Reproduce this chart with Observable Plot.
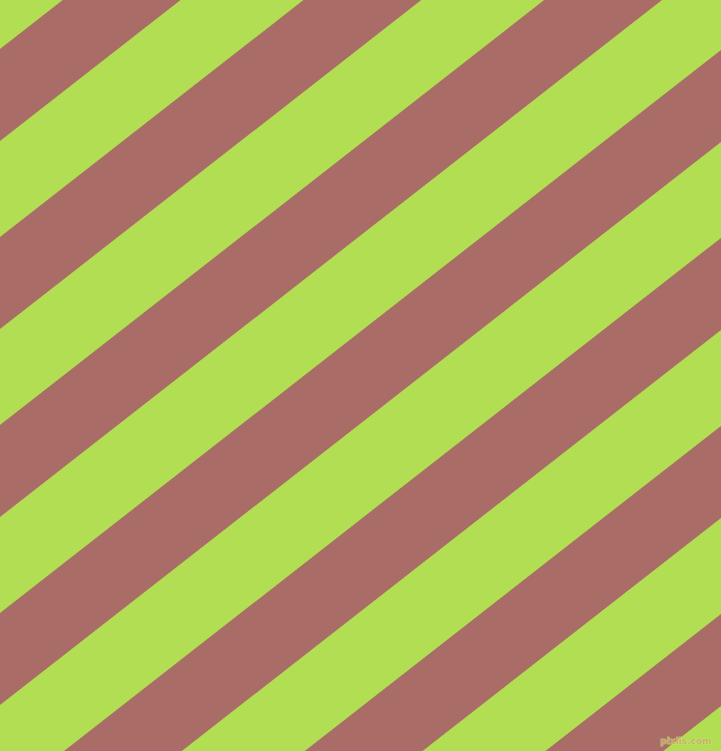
<!DOCTYPE html>
<html>
<head>
<meta charset="utf-8">
<script src="https://cdn.jsdelivr.net/npm/d3@7"></script>
<script src="https://cdn.jsdelivr.net/npm/@observablehq/plot@0.6"></script>
<style>
  html, body { margin: 0; padding: 0; background: #b1de53; overflow: hidden; }
  #chart svg { display: block; }
</style>
</head>
<body>
<div id="chart"></div>
<script>
// Upper and lower edges of each brown stripe, measured where they meet the left edge (px from top)
const stripeTop = [49, 237, 425, 613, 801, 989, 1177];
const stripeBottom = [141, 329, 517, 705, 893, 1081, 1269];
// Vertical drop of a stripe edge per pixel moved to the right
const stripeSlope = 0.781;
// Horizontal extent sampled for each stripe
const edgeX = [0, 721];
const greenColor = "#b1de53";
const brownColor = "#aa6c67";
const watermark = ["pixlis.com"];

const rows = [];
stripeTop.forEach((t, i) => {
  edgeX.forEach(x => {
    rows.push({stripe: i, x, top: t - stripeSlope * x, bottom: stripeBottom[i] - stripeSlope * x});
  });
});

const chart = Plot.plot({
  width: 721,
  height: 751,
  margin: 0,
  x: {domain: [0, 721], axis: null},
  y: {domain: [751, 0], axis: null},
  style: {background: greenColor},
  marks: [
    Plot.frame({fill: greenColor, stroke: null}),
    Plot.area(rows, {x1: "x", y1: "top", y2: "bottom", z: "stripe", fill: brownColor, curve: "linear"}),
    Plot.text(watermark, {x: 711, y: 741, text: d => d, textAnchor: "end", fontSize: 9, fontFamily: "DejaVu Sans", fontWeight: "bold", fill: "#c9a86a", fillOpacity: 0.85, stroke: "#d8e890", strokeWidth: 1, strokeOpacity: 0.6})
  ]
});
document.getElementById("chart").appendChild(chart);
</script>
</body>
</html>
